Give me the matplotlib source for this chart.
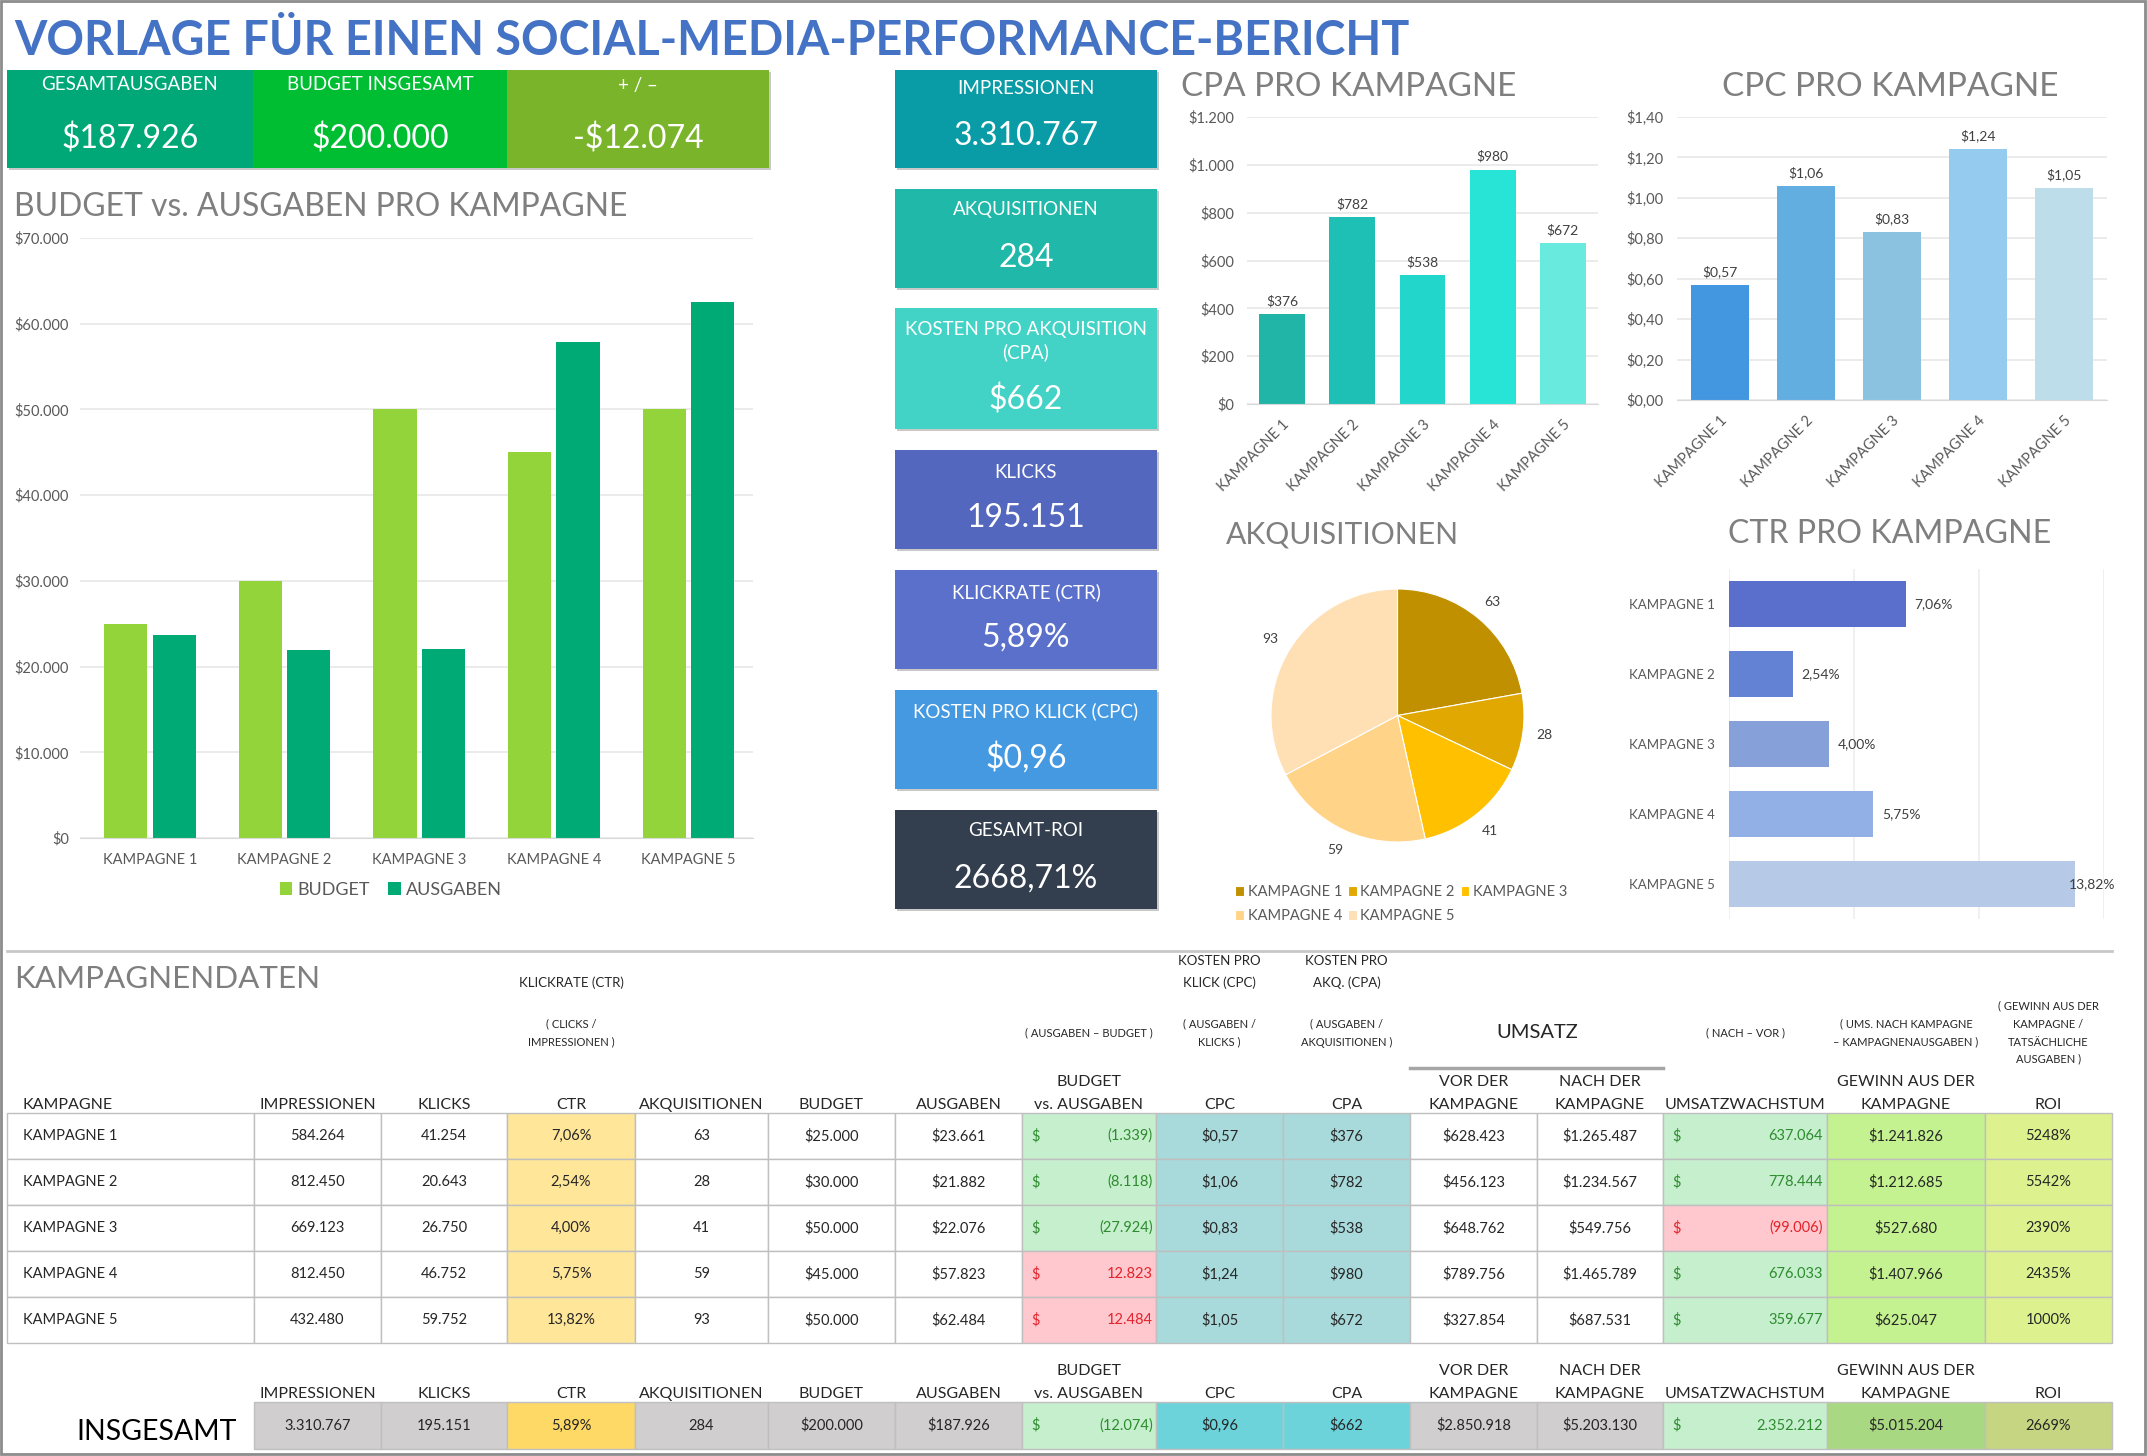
import matplotlib
matplotlib.use('Agg')
import matplotlib.pyplot as plt
from matplotlib.patches import Rectangle
from matplotlib.table import Table
from matplotlib.ticker import FuncFormatter
import numpy as np

# ---------------- data ----------------
campaigns = ['KAMPAGNE 1', 'KAMPAGNE 2', 'KAMPAGNE 3', 'KAMPAGNE 4', 'KAMPAGNE 5']
impressions = [584264, 812450, 669123, 812450, 432480]
clicks = [41254, 20643, 26750, 46752, 59752]
ctr_pct = [7.06, 2.54, 4.00, 5.75, 13.82]
acquisitions = [63, 28, 41, 59, 93]
budget = [25000, 30000, 50000, 45000, 50000]
spend = [23661, 21882, 22076, 57823, 62484]
budget_vs_spend = [-1339, -8118, -27924, 12823, 12484]
cpc = [0.57, 1.06, 0.83, 1.24, 1.05]
cpa = [376, 782, 538, 980, 672]
revenue_before = [628423, 456123, 648762, 789756, 327854]
revenue_after = [1265487, 1234567, 549756, 1465789, 687531]
revenue_growth = [637064, 778444, -99006, 676033, 359677]
campaign_profit = [1241826, 1212685, 527680, 1407966, 625047]
roi_pct = [5248, 5542, 2390, 2435, 1000]

total_impressions = 3310767
total_clicks = 195151
total_ctr = 5.89
total_acquisitions = 284
total_budget = 200000
total_spend = 187926
total_budget_vs_spend = -12074
total_cpc = 0.96
total_cpa = 662
total_revenue_before = 2850918
total_revenue_after = 5203130
total_revenue_growth = 2352212
total_profit = 5015204
total_roi = 2669
total_roi_exact = 2668.71

header_cols = ['KAMPAGNE', 'IMPRESSIONEN', 'KLICKS', 'CTR', 'AKQUISITIONEN', 'BUDGET',
               'AUSGABEN', 'BUDGET\nvs. AUSGABEN', 'CPC', 'CPA', 'VOR DER\nKAMPAGNE',
               'NACH DER\nKAMPAGNE', 'UMSATZWACHSTUM', 'GEWINN AUS DER\nKAMPAGNE', 'ROI']

# ---------------- formatting ----------------
def de_int(v):
    return f"{abs(int(round(v))):,}".replace(',', '.')

def money(v):
    s = '$' + de_int(v)
    return '-' + s if v < 0 else s

def de_dec(v, n=2):
    return f"{v:.{n}f}".replace('.', ',')

def acct(v):
    return f"({de_int(v)})" if v < 0 else de_int(v)

# ---------------- figure ----------------
W, H = 2147, 1456
plt.rcParams['font.family'] = ['Lato', 'DejaVu Sans']
fig = plt.figure(figsize=(W / 100, H / 100), dpi=100)
renderer = fig.canvas.get_renderer()
bg = fig.add_axes([0, 0, 1, 1], zorder=0)
bg.set_xlim(0, W)
bg.set_ylim(H, 0)
bg.axis('off')

GRAY_T = '#7F7F7F'
TICK = '#595959'
TXT = '#262626'
TS = 10.5  # tick label size


def px_axes(x0, y0, x1, y1):
    a = fig.add_axes([x0 / W, 1 - y1 / H, (x1 - x0) / W, (y1 - y0) / H], zorder=2)
    a.patch.set_alpha(0)
    return a


def txt(x, y, s, size=10, color=TXT, ha='center', va='center', **kw):
    return bg.text(x, y, s, fontsize=size, color=color, ha=ha, va=va, **kw)


def fit(t, target_w):
    bb = t.get_window_extent(renderer=renderer)
    t.set_fontsize(t.get_fontsize() * target_w / bb.width)


# border
bg.add_patch(Rectangle((1, 1), W - 3, H - 3, fill=False, edgecolor='#8C8C8C', lw=2))

# main title
t = txt(14, 41, 'VORLAGE FÜR EINEN SOCIAL-MEDIA-PERFORMANCE-BERICHT', size=26,
        color='#4472C4', ha='left', fontweight='bold')
fit(t, 1394)

# ---------------- KPI tiles ----------------
def tile(x0, y0, x1, y1, color, label_lines, label_ys, value, value_y):
    bg.add_patch(Rectangle((x0 + 2, y0 + 2), x1 - x0, y1 - y0, color='#C9C9C9', lw=0))
    bg.add_patch(Rectangle((x0, y0), x1 - x0, y1 - y0, color=color, lw=0))
    cx = (x0 + x1) / 2
    for s, yy in zip(label_lines, label_ys):
        txt(cx, yy, s, size=13.5, color='white')
    txt(cx, value_y, value, size=23, color='white')


tile(7, 70, 253, 168, '#00A878', ['GESAMTAUSGABEN'], [85], money(total_spend), 139)
tile(253, 70, 507, 168, '#00BE32', ['BUDGET INSGESAMT'], [85], money(total_budget), 139)
tile(507, 70, 769, 168, '#79B42A', ['+ / –'], [85], money(total_budget_vs_spend), 139)

MX0, MX1 = 895, 1157
tile(MX0, 70, MX1, 168, '#0A9CA6', ['IMPRESSIONEN'], [88], de_int(total_impressions), 136)
tile(MX0, 189, MX1, 288, '#1FB8A9', ['AKQUISITIONEN'], [209], str(total_acquisitions), 258)
tile(MX0, 308, MX1, 429, '#43D3C6', ['KOSTEN PRO AKQUISITION', '(CPA)'], [329, 352],
     money(total_cpa), 400)
tile(MX0, 450, MX1, 549, '#5367BE', ['KLICKS'], [472], de_int(total_clicks), 518)
tile(MX0, 570, MX1, 669, '#5A70CB', ['KLICKRATE (CTR)'], [592], de_dec(total_ctr) + '%', 638)
tile(MX0, 690, MX1, 789, '#4499E1', ['KOSTEN PRO KLICK (CPC)'], [711],
     '$' + de_dec(total_cpc), 758)
tile(MX0, 810, MX1, 909, '#333E4F', ['GESAMT-ROI'], [831], de_dec(total_roi_exact) + '%', 879)


def style_ax(ax, grid_axis='y'):
    for s in ['top', 'right', 'left']:
        ax.spines[s].set_visible(False)
    ax.spines['bottom'].set_color('#D9D9D9')
    ax.grid(axis=grid_axis, color='#E7E7E7', lw=1.2)
    ax.set_axisbelow(True)
    ax.tick_params(length=0, colors=TICK, labelsize=TS)


x = np.arange(len(campaigns))

# ---------------- Budget vs Ausgaben ----------------
t = txt(14, 207, 'BUDGET vs. AUSGABEN PRO KAMPAGNE', size=20, color=GRAY_T, ha='left')
fit(t, 612)
ax = px_axes(80, 238, 753, 838)
ax.bar(x - 0.18, budget, 0.32, color='#92D439', label='BUDGET')
ax.bar(x + 0.18, spend, 0.32, color='#00AA74', label='AUSGABEN')
ax.set_xlim(-0.52, 4.48)
ax.set_ylim(0, 70000)
ax.set_yticks(np.arange(0, 70001, 10000))
ax.yaxis.set_major_formatter(FuncFormatter(lambda v, p: money(v)))
ax.set_xticks(x)
ax.set_xticklabels(campaigns)
style_ax(ax)
ax.tick_params(axis='y', pad=8)
ax.tick_params(axis='x', pad=11)
ax.legend(loc='center', bbox_to_anchor=(391 / W, 1 - 890 / H), bbox_transform=fig.transFigure,
          ncol=2, frameon=False, fontsize=13, handlelength=0.7, handleheight=0.7,
          handletextpad=0.3, columnspacing=1.0, labelcolor=TICK)

# ---------------- CPA ----------------
t = txt(1181, 87, 'CPA PRO KAMPAGNE', size=20, color=GRAY_T, ha='left')
fit(t, 335)
cpa_colors = ['#20B5A6', '#1EC0B5', '#22D6CB', '#27E4D7', '#68EADF']
ax = px_axes(1247, 117, 1598, 404)
bars = ax.bar(x, cpa, 0.65, color=cpa_colors)
ax.set_xlim(-0.5, 4.5)
ax.set_ylim(0, 1200)
ax.set_yticks(np.arange(0, 1201, 200))
ax.yaxis.set_major_formatter(FuncFormatter(lambda v, p: money(v)))
style_ax(ax)
ax.set_xticks(x)
ax.set_xticklabels(campaigns, rotation=45, ha='right', rotation_mode='anchor')
ax.tick_params(axis='y', pad=9)
ax.tick_params(axis='x', pad=10)
ax.bar_label(bars, labels=[money(v) for v in cpa], padding=5, fontsize=10, color='#404040')

# ---------------- CPC ----------------
t = txt(1722, 87, 'CPC PRO KAMPAGNE', size=20, color=GRAY_T, ha='left')
fit(t, 336)
cpc_colors = ['#4397E0', '#63AEE1', '#8BC2E0', '#94CBEE', '#BEDDEA']
ax = px_axes(1677, 117, 2107, 400)
bars = ax.bar(x, cpc, 0.67, color=cpc_colors)
ax.set_xlim(-0.5, 4.5)
ax.set_ylim(0, 1.4)
ax.set_yticks(np.arange(0, 1.41, 0.2))
ax.yaxis.set_major_formatter(FuncFormatter(lambda v, p: '$' + de_dec(v)))
style_ax(ax)
ax.set_xticks(x)
ax.set_xticklabels(campaigns, rotation=45, ha='right', rotation_mode='anchor')
ax.tick_params(axis='y', pad=10)
ax.tick_params(axis='x', pad=10)
ax.bar_label(bars, labels=['$' + de_dec(v) for v in cpc], padding=5, fontsize=10, color='#404040')

# ---------------- Pie ----------------
t = txt(1226, 534, 'AKQUISITIONEN', size=20, color=GRAY_T, ha='left')
fit(t, 233)
pie_colors = ['#C09000', '#E0A800', '#FFC000', '#FFD488', '#FFE0B5']
PCX, PCY, PR = 1397.5, 715.5, 126.5
axp = px_axes(PCX - PR, PCY - PR, PCX + PR, PCY + PR)
wedges, texts = axp.pie(acquisitions, colors=pie_colors, startangle=90, counterclock=False,
                        labels=[str(v) for v in acquisitions], labeldistance=1.17,
                        wedgeprops=dict(edgecolor='white', linewidth=0.8),
                        textprops=dict(fontsize=10, color='#404040'))
for tt in texts:
    tt.set_ha('center')
axp.set_xlim(-1, 1)
axp.set_ylim(-1, 1)
order = [0, 3, 1, 4, 2]
axp.legend([wedges[i] for i in order], [campaigns[i] for i in order], loc='upper left',
           bbox_to_anchor=(1228 / W, 1 - 878 / H), bbox_transform=fig.transFigure, ncol=3,
           frameon=False, fontsize=10.5, handlelength=0.6, handleheight=0.7, handletextpad=0.25,
           columnspacing=0.4, labelspacing=0.65, labelcolor=TICK, borderpad=0)

# ---------------- CTR ----------------
t = txt(1728, 534, 'CTR PRO KAMPAGNE', size=20, color=GRAY_T, ha='left')
fit(t, 322)
ctr_colors = ['#5A6FCB', '#6482D3', '#86A1D9', '#92AFE6', '#B6C9E7']
ax = px_axes(1729, 569, 2104, 919)
bars = ax.barh(x, ctr_pct, 0.66, color=ctr_colors)
ax.set_xlim(0, 15)
ax.set_ylim(4.5, -0.5)
ax.set_xticks([0, 5, 10, 15])
ax.set_xticklabels([])
for s in ['top', 'right', 'left', 'bottom']:
    ax.spines[s].set_visible(False)
ax.grid(axis='x', color='#EDEDED', lw=1.2)
ax.set_axisbelow(True)
ax.set_yticks(x)
ax.set_yticklabels(campaigns)
ax.tick_params(length=0, colors=TICK, labelsize=9.5)
ax.tick_params(axis='y', pad=10)
for i, v in enumerate(ctr_pct):
    off = -6 if v > 0.9 * 15 else 9
    ax.annotate(de_dec(v) + '%', (v, i), xytext=(off, 0), textcoords='offset pixels',
                ha='left', va='center', fontsize=10, color='#404040')

# ---------------- Table ----------------
bg.plot([7, 2112], [951, 951], color='#C8C8C8', lw=2)
t = txt(14, 979, 'KAMPAGNENDATEN', size=20, color=GRAY_T, ha='left')
fit(t, 305)

col_edges = [7, 254, 381, 507, 635, 768, 895, 1022, 1156, 1283, 1410, 1537, 1663, 1827, 1985, 2112]
centers = [(col_edges[i] + col_edges[i + 1]) / 2 for i in range(15)]

# description texts above the headers
SM = 8
MD = 9.5
txt(centers[3], 983, 'KLICKRATE (CTR)', size=MD)
txt(centers[3], 1024, '( CLICKS /', size=SM)
txt(centers[3], 1042, 'IMPRESSIONEN )', size=SM)
txt(centers[7], 1033, '( AUSGABEN – BUDGET )', size=SM)
txt(centers[8], 961, 'KOSTEN PRO', size=MD)
txt(centers[8], 983, 'KLICK (CPC)', size=MD)
txt(centers[8], 1024, '( AUSGABEN /', size=SM)
txt(centers[8], 1042, 'KLICKS )', size=SM)
txt(centers[9], 961, 'KOSTEN PRO', size=MD)
txt(centers[9], 983, 'AKQ. (CPA)', size=MD)
txt(centers[9], 1024, '( AUSGABEN /', size=SM)
txt(centers[9], 1042, 'AKQUISITIONEN )', size=SM)
txt(col_edges[11], 1033, 'UMSATZ', size=14.5)
bg.plot([col_edges[10], col_edges[12]], [1068, 1068], color='#A6A6A6', lw=2.5)
txt(centers[12], 1033, '( NACH – VOR )', size=SM)
txt(centers[13], 1024, '( UMS. NACH KAMPAGNE', size=SM)
txt(centers[13], 1042, '– KAMPAGNENAUSGABEN )', size=SM)
for s, yy in zip(['( GEWINN AUS DER', 'KAMPAGNE /', 'TATSÄCHLICHE', 'AUSGABEN )'],
                 [1006, 1024, 1042, 1059]):
    txt(centers[14], yy, s, size=SM)


def headers(y_last, start_col):
    for c in range(start_col, 15):
        lines = header_cols[c].split('\n')
        for k, s in enumerate(reversed(lines)):
            if c == 0:
                txt(col_edges[0] + 16, y_last - 23 * k, s, size=11.5, ha='left')
            else:
                txt(centers[c], y_last - 23 * k, s, size=11.5)


headers(1105, 0)
headers(1394, 1)

GREEN_BG, RED_BG = '#C6EFCE', '#FFC7CE'
GREEN_TX, RED_TX = '#2E8B2E', '#E3242B'


def make_table(y0, y1, rows, start_col):
    tb = Table(bg, bbox=[col_edges[start_col] / W, 1 - y1 / H,
                         (col_edges[-1] - col_edges[start_col]) / W, (y1 - y0) / H])
    tb.auto_set_font_size(False)
    n = len(rows)
    rh = (y1 - y0) / n
    for r, row in enumerate(rows):
        for j, (text, loc, face, tcolor, dollar) in enumerate(row):
            c = start_col + j
            w = (col_edges[c + 1] - col_edges[c]) / W
            cell = tb.add_cell(r, j, width=w, height=1.0 / n, text=text, loc=loc,
                               facecolor=face, edgecolor='#BFBFBF')
            cell.set_linewidth(1.0)
            if loc == 'left':
                cell.PAD = 0.065
            elif loc == 'right':
                cell.PAD = 0.025
            cell.get_text().set_color(tcolor)
            cell.get_text().set_fontsize(10.5)
            if dollar:
                txt(col_edges[c] + 9, y0 + (r + 0.5) * rh, '$', size=10.5, color=tcolor,
                    ha='left', zorder=5)
    bg.add_table(tb)


rows = []
for i in range(len(campaigns)):
    bneg = budget_vs_spend[i] < 0
    gneg = revenue_growth[i] < 0
    rows.append([
        (campaigns[i], 'left', 'white', TXT, False),
        (de_int(impressions[i]), 'center', 'white', TXT, False),
        (de_int(clicks[i]), 'center', 'white', TXT, False),
        (de_dec(ctr_pct[i]) + '%', 'center', '#FFE699', TXT, False),
        (str(acquisitions[i]), 'center', 'white', TXT, False),
        (money(budget[i]), 'center', 'white', TXT, False),
        (money(spend[i]), 'center', 'white', TXT, False),
        (acct(budget_vs_spend[i]), 'right', GREEN_BG if bneg else RED_BG,
         GREEN_TX if bneg else RED_TX, True),
        ('$' + de_dec(cpc[i]), 'center', '#A9DADB', TXT, False),
        (money(cpa[i]), 'center', '#A9DADB', TXT, False),
        (money(revenue_before[i]), 'center', 'white', TXT, False),
        (money(revenue_after[i]), 'center', 'white', TXT, False),
        (acct(revenue_growth[i]), 'right', RED_BG if gneg else GREEN_BG,
         RED_TX if gneg else GREEN_TX, True),
        (money(campaign_profit[i]), 'center', '#C4F290', TXT, False),
        (f"{roi_pct[i]}%", 'center', '#DDF28F', TXT, False),
    ])
make_table(1113, 1343, rows, 0)

GRAYC = '#D0CECE'
tot_row = [[
    (de_int(total_impressions), 'center', GRAYC, TXT, False),
    (de_int(total_clicks), 'center', GRAYC, TXT, False),
    (de_dec(total_ctr) + '%', 'center', '#FFD966', TXT, False),
    (str(total_acquisitions), 'center', GRAYC, TXT, False),
    (money(total_budget), 'center', GRAYC, TXT, False),
    (money(total_spend), 'center', GRAYC, TXT, False),
    (acct(total_budget_vs_spend), 'right', GREEN_BG, GREEN_TX, True),
    ('$' + de_dec(total_cpc), 'center', '#6DD3DB', TXT, False),
    (money(total_cpa), 'center', '#6DD3DB', TXT, False),
    (money(total_revenue_before), 'center', GRAYC, TXT, False),
    (money(total_revenue_after), 'center', GRAYC, TXT, False),
    (acct(total_revenue_growth), 'right', GREEN_BG, GREEN_TX, True),
    (money(total_profit), 'center', '#A9D882', TXT, False),
    (f"{total_roi}%", 'center', '#C5D581', TXT, False),
]]
make_table(1402, 1449, tot_row, 1)
txt(237, 1432, 'INSGESAMT', size=20.5, color='#000000', ha='right')

fig.savefig('out.png', dpi=100)
